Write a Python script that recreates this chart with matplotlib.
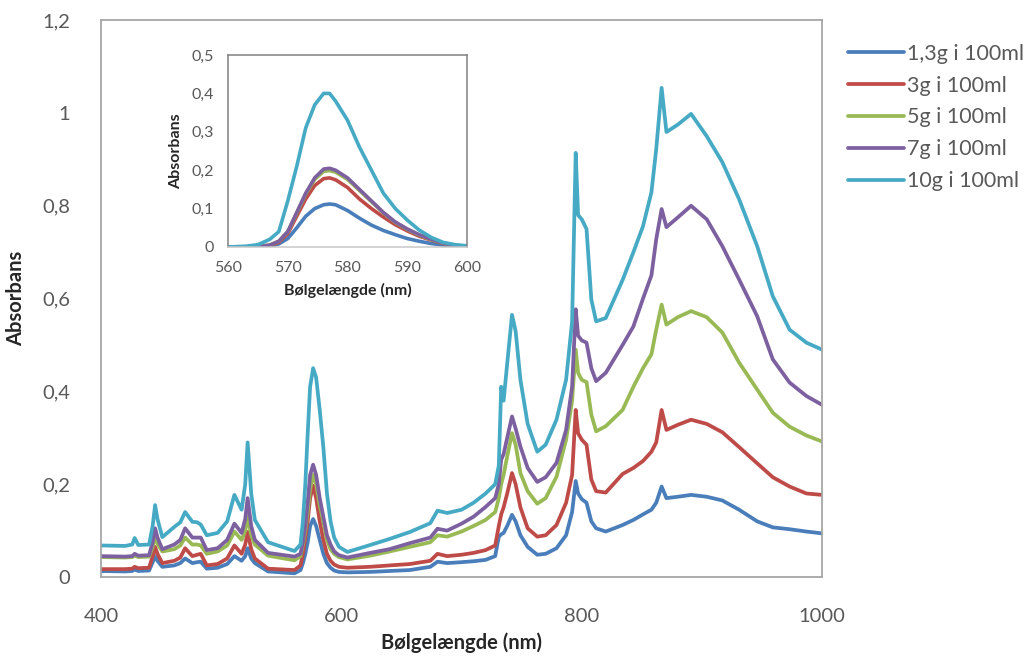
import numpy as np
import matplotlib
matplotlib.use('Agg')
import matplotlib.pyplot as plt
from matplotlib.ticker import FuncFormatter

################################################################################
# Data
bolge = [400, 420, 426, 428, 431, 440, 443, 445, 447, 451, 461, 466, 470, 476,
         480, 483, 488, 497, 505, 511, 517, 520, 522, 525, 528, 539, 561, 566,
         568, 570, 572, 574, 576.5, 579, 582, 585, 588, 591, 594, 598, 605, 624,
         640, 657, 674, 680, 688, 700, 710, 720, 728, 731, 733, 735, 738, 742,
         745, 749, 755, 763, 770, 779, 787, 792, 795, 797, 800, 804, 808, 812,
         820, 834, 843, 851, 858, 862, 866.5, 870.5, 880, 891, 904, 917, 931,
         946, 959, 973, 987, 1000]

abs_1_3g = [0.013, 0.012, 0.013, 0.016, 0.013, 0.014, 0.032, 0.045, 0.035, 0.022,
            0.025, 0.030, 0.040, 0.030, 0.032, 0.033, 0.018, 0.020, 0.028, 0.045,
            0.035, 0.045, 0.062, 0.040, 0.030, 0.012, 0.008, 0.015, 0.030, 0.050,
            0.075, 0.110, 0.125, 0.110, 0.080, 0.050, 0.030, 0.020, 0.014, 0.011,
            0.010, 0.011, 0.013, 0.015, 0.022, 0.033, 0.030, 0.032, 0.034, 0.037,
            0.045, 0.087, 0.092, 0.095, 0.110, 0.134, 0.120, 0.090, 0.065, 0.048,
            0.050, 0.062, 0.090, 0.140, 0.207, 0.180, 0.168, 0.160, 0.120, 0.105,
            0.098, 0.112, 0.123, 0.135, 0.145, 0.160, 0.195, 0.170, 0.173, 0.177,
            0.173, 0.165, 0.145, 0.120, 0.107, 0.103, 0.098, 0.094]

abs_3g = [0.017, 0.017, 0.018, 0.022, 0.019, 0.020, 0.045, 0.065, 0.050, 0.030,
          0.035, 0.042, 0.062, 0.045, 0.048, 0.050, 0.025, 0.028, 0.040, 0.068,
          0.050, 0.070, 0.097, 0.060, 0.040, 0.018, 0.015, 0.025, 0.050, 0.085,
          0.120, 0.170, 0.197, 0.170, 0.120, 0.080, 0.050, 0.035, 0.027, 0.022,
          0.020, 0.022, 0.025, 0.028, 0.035, 0.050, 0.045, 0.048, 0.052, 0.058,
          0.068, 0.110, 0.135, 0.150, 0.180, 0.224, 0.200, 0.150, 0.105, 0.087,
          0.090, 0.112, 0.160, 0.220, 0.360, 0.310, 0.296, 0.285, 0.210, 0.185,
          0.182, 0.222, 0.235, 0.250, 0.270, 0.290, 0.360, 0.317, 0.328, 0.339,
          0.330, 0.312, 0.280, 0.245, 0.215, 0.195, 0.180, 0.177]

abs_5g = [0.043, 0.042, 0.043, 0.046, 0.043, 0.044, 0.065, 0.088, 0.072, 0.055,
          0.060, 0.068, 0.085, 0.070, 0.070, 0.068, 0.050, 0.055, 0.068, 0.098,
          0.080, 0.100, 0.130, 0.090, 0.070, 0.046, 0.036, 0.045, 0.070, 0.100,
          0.140, 0.190, 0.220, 0.200, 0.155, 0.120, 0.080, 0.060, 0.050, 0.043,
          0.038, 0.046, 0.055, 0.065, 0.075, 0.090, 0.087, 0.098, 0.110, 0.123,
          0.140, 0.170, 0.200, 0.220, 0.260, 0.310, 0.285, 0.224, 0.185, 0.158,
          0.170, 0.216, 0.296, 0.380, 0.490, 0.440, 0.425, 0.420, 0.350, 0.314,
          0.325, 0.360, 0.410, 0.450, 0.480, 0.533, 0.587, 0.544, 0.560, 0.573,
          0.560, 0.527, 0.462, 0.404, 0.354, 0.324, 0.305, 0.292]

abs_7g = [0.045, 0.044, 0.045, 0.050, 0.046, 0.047, 0.075, 0.105, 0.085, 0.060,
          0.070, 0.080, 0.105, 0.085, 0.085, 0.085, 0.058, 0.062, 0.080, 0.115,
          0.095, 0.125, 0.170, 0.110, 0.080, 0.052, 0.044, 0.050, 0.075, 0.110,
          0.160, 0.220, 0.242, 0.220, 0.170, 0.130, 0.090, 0.070, 0.055, 0.047,
          0.042, 0.052, 0.060, 0.073, 0.085, 0.104, 0.100, 0.115, 0.130, 0.151,
          0.170, 0.200, 0.253, 0.265, 0.300, 0.346, 0.320, 0.281, 0.235, 0.205,
          0.215, 0.246, 0.317, 0.410, 0.577, 0.520, 0.510, 0.505, 0.450, 0.422,
          0.440, 0.500, 0.540, 0.600, 0.650, 0.728, 0.793, 0.754, 0.775, 0.800,
          0.771, 0.713, 0.641, 0.562, 0.469, 0.419, 0.390, 0.371]

abs_10g = [0.068, 0.067, 0.070, 0.084, 0.069, 0.070, 0.110, 0.155, 0.125, 0.086,
           0.108, 0.118, 0.140, 0.119, 0.118, 0.113, 0.090, 0.095, 0.120, 0.177,
           0.145, 0.200, 0.290, 0.180, 0.123, 0.075, 0.056, 0.070, 0.120, 0.200,
           0.310, 0.410, 0.450, 0.430, 0.360, 0.280, 0.180, 0.120, 0.085, 0.065,
           0.054, 0.069, 0.082, 0.097, 0.116, 0.143, 0.138, 0.145, 0.160, 0.180,
           0.200, 0.240, 0.410, 0.380, 0.460, 0.565, 0.530, 0.425, 0.330, 0.270,
           0.285, 0.339, 0.425, 0.550, 0.914, 0.780, 0.771, 0.750, 0.598, 0.551,
           0.558, 0.640, 0.700, 0.756, 0.829, 0.922, 1.054, 0.959, 0.975, 0.998,
           0.950, 0.894, 0.814, 0.713, 0.605, 0.533, 0.505, 0.490]

# Indsat graf (zoom omkring 576 nm)
bolge_ind = [560, 563, 565, 567, 568.5, 570, 571.5, 573, 574.5, 576, 577, 578,
             580, 582, 584, 586, 588, 590, 592, 594, 596, 598, 600]
ind_1_3g = [0, 0, 0.001, 0.002, 0.008, 0.022, 0.050, 0.080, 0.100, 0.110, 0.112,
            0.110, 0.095, 0.075, 0.057, 0.043, 0.032, 0.022, 0.015, 0.009, 0.005,
            0.002, 0.001]
ind_3g = [0, 0, 0.001, 0.004, 0.012, 0.035, 0.080, 0.125, 0.160, 0.178, 0.180,
          0.175, 0.155, 0.125, 0.100, 0.078, 0.058, 0.042, 0.028, 0.018, 0.009,
          0.004, 0.002]
ind_5g = [0, 0, 0.001, 0.005, 0.015, 0.040, 0.088, 0.138, 0.176, 0.197, 0.199,
          0.195, 0.176, 0.147, 0.118, 0.089, 0.064, 0.046, 0.031, 0.019, 0.010,
          0.004, 0.002]
ind_7g = [0, 0, 0.001, 0.005, 0.015, 0.040, 0.090, 0.140, 0.180, 0.203, 0.205,
          0.200, 0.180, 0.150, 0.120, 0.090, 0.065, 0.047, 0.032, 0.020, 0.010,
          0.004, 0.002]
ind_10g = [0, 0.002, 0.006, 0.020, 0.040, 0.120, 0.210, 0.310, 0.370, 0.400,
           0.400, 0.380, 0.330, 0.260, 0.200, 0.140, 0.100, 0.070, 0.044, 0.025,
           0.012, 0.006, 0.003]

navne = ['1,3g i 100ml', '3g i 100ml', '5g i 100ml', '7g i 100ml', '10g i 100ml']
farver = ['#4A7EBB', '#BE4B48', '#98B954', '#7D60A0', '#46AAC5']

################################################################################
# Figur
plt.rcParams['font.family'] = ['Lato', 'DejaVu Sans']
grå = '#595959'

def komma(v, pos):
    s = ('%.1f' % v).rstrip('0').rstrip('.')
    return s.replace('.', ',')

fig = plt.figure(figsize=(10.36, 6.59), dpi=100)
ax = fig.add_axes([0.0975, 0.1244, 0.696, 0.845])

serier = [abs_1_3g, abs_3g, abs_5g, abs_7g, abs_10g]
for y, navn, f in zip(serier, navne, farver):
    ax.plot(bolge, y, color=f, lw=2.7, label=navn,
            solid_joinstyle='round', solid_capstyle='round')

ax.set_xlim(400, 1000)
ax.set_ylim(0, 1.2)
ax.set_xticks([400, 600, 800, 1000])
ax.set_yticks([0, 0.2, 0.4, 0.6, 0.8, 1.0, 1.2])
ax.yaxis.set_major_formatter(FuncFormatter(komma))
ax.tick_params(length=0, labelsize=14.5, colors=grå, pad=22)
for s in ax.spines.values():
    s.set_color('#A6A6A6')
    s.set_linewidth(1.3)
ax.set_xlabel('Bølgelængde (nm)', fontsize=14.5, fontweight='bold', color='#262626', labelpad=6)
ax.set_ylabel('Absorbans', fontsize=14.5, fontweight='bold', color='#262626', labelpad=12)

# Indsat graf
ax2 = fig.add_axes([0.2201, 0.6252, 0.2307, 0.2913])
serier_ind = [ind_1_3g, ind_3g, ind_5g, ind_7g, ind_10g]
for y, f in zip(serier_ind, farver):
    ax2.plot(bolge_ind, y, color=f, lw=2.6, solid_joinstyle='round')
ax2.set_xlim(560, 600)
ax2.set_ylim(0, 0.5)
ax2.set_xticks([560, 570, 580, 590, 600])
ax2.set_yticks([0, 0.1, 0.2, 0.3, 0.4, 0.5])
ax2.yaxis.set_major_formatter(FuncFormatter(komma))
ax2.tick_params(length=0, labelsize=11.5, colors=grå, pad=10)
for s in ax2.spines.values():
    s.set_color('#808080')
    s.set_linewidth(1.1)
ax2.spines['bottom'].set_color('#C8C8C8')
ax2.set_xlabel('Bølgelængde (nm)', fontsize=11.5, fontweight='bold', color='#262626', labelpad=6)
ax2.set_ylabel('Absorbans', fontsize=11.5, fontweight='bold', color='#262626', labelpad=6)

# Forklaring
h, l = ax.get_legend_handles_labels()
fig.legend(h, l, loc='upper left', bbox_to_anchor=(0.8, 0.963), frameon=False,
           fontsize=15.5, handlelength=2.6, handletextpad=0.12, labelspacing=0.55,
           labelcolor=grå)

fig.savefig('out.png', dpi=100)
